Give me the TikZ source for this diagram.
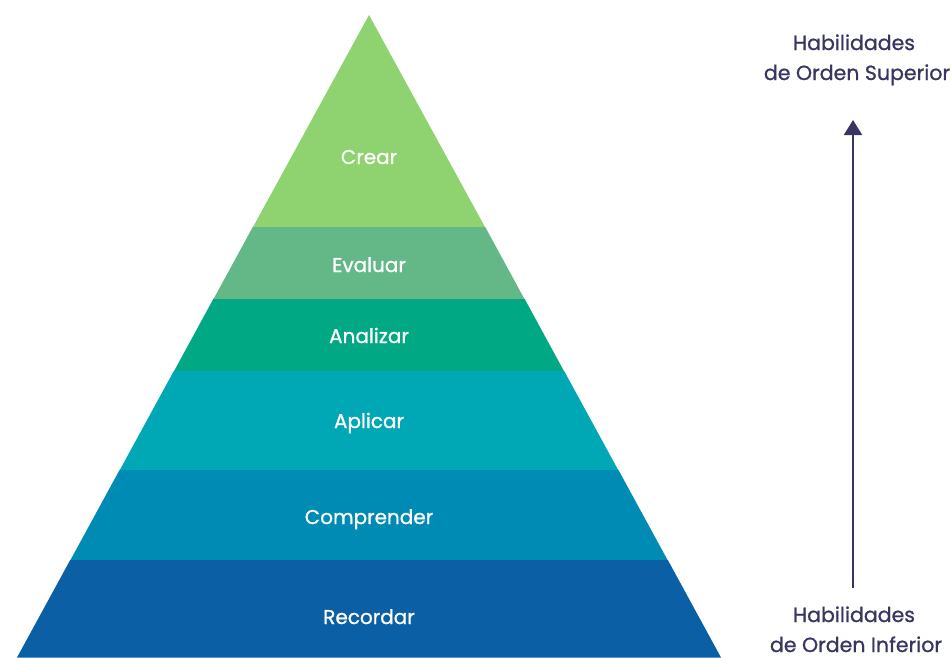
\documentclass[tikz,border=0pt]{standalone}
\usepackage{fontspec}
\setmainfont{Poppins}[FakeBold=0.9]
\usetikzlibrary{arrows.meta}
\definecolor{cCrear}{HTML}{8FD270}
\definecolor{cEval}{HTML}{64B887}
\definecolor{cAnal}{HTML}{00A884}
\definecolor{cApl}{HTML}{00A8B5}
\definecolor{cComp}{HTML}{008BB5}
\definecolor{cRec}{HTML}{0B5FA5}
\definecolor{navy}{HTML}{383660}
\begin{document}
\begin{tikzpicture}[x=1pt,y=-1pt,
  lvl/.style={text=white,font=\fontsize{20}{24}\selectfont,anchor=base,inner sep=0pt},
  side/.style={text=navy,font=\fontsize{20.5}{24}\selectfont,anchor=base,inner sep=0pt,text depth=0pt}]
\useasboundingbox (0,0) rectangle (952,657);
% geometry: apex (369,15), base y=657 from 13 to 717
\foreach \ya/\yb/\c in {15/227/cCrear,227/299/cEval,299/371/cAnal,371/470/cApl,470/560/cComp,560/657/cRec}{
  \pgfmathsetmacro{\wa}{(\ya-15)*0.548287}
  \pgfmathsetmacro{\wb}{(\yb-15)*0.548287}
  \fill[\c] (369-\wa,\ya) -- (369+\wa,\ya) -- (369+\wb,\yb+0.5) -- (369-\wb,\yb+0.5) -- cycle;
}
\node[lvl] (crear) at (369,164) {Crear};
\node[lvl] (evaluar) at (369,272) {Evaluar};
\node[lvl] (analizar) at (369,343) {Analizar};
\node[lvl] (aplicar) at (369,428) {Aplicar};
\node[lvl] (comprender) at (369,524) {Comprender};
\node[lvl] (recordar) at (369,624) {Recordar};
\node[side] (sup1) at (854,50) {Habilidades};
\node[side] (sup2) at (857,80) {de Orden Superior};
\node[side] (inf1) at (854,622) {Habilidades};
\node[side] (inf2) at (856,652) {de Orden Inferior};
\coordinate (abot) at (853,588);
\coordinate (atop) at (853,120);
\draw[navy,line width=2pt,-{Triangle[length=15pt,width=18pt]}] (abot) -- (atop);
\end{tikzpicture}
\end{document}
